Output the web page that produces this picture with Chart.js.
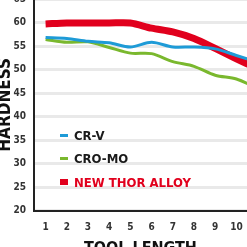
<!DOCTYPE html>
<html>
<head>
<meta charset="utf-8">
<script src="https://cdn.jsdelivr.net/npm/chart.js@4"></script>
<style>
  html, body { margin: 0; padding: 0; background: #fff; }
  #wrap { position: relative; width: 247px; height: 247px; overflow: hidden; }
  #inner { position: absolute; left: -5px; top: -15px; width: 252px; height: 273px; }
  #legend { position: absolute; left: 60px; top: 124px; font-family: 'Liberation Sans Narrow', 'DejaVu Sans Condensed', sans-serif; font-weight: bold; font-size: 13px; }
  .row { height: 23.3px; display: flex; align-items: center; }
  .mark { width: 8px; margin-right: 6px; }
</style>
</head>
<body>
<div id="wrap">
  <div id="inner"><canvas id="hardness"></canvas></div>
  <div id="legend"></div>
</div>
<script>
// values
const toolLength = [1, 2, 3, 4, 5, 6, 7, 8, 9, 10, 11];
const crV = [56.8, 56.6, 56.0, 55.7, 54.8, 55.8, 54.8, 54.8, 54.4, 53.0, 51.6];
const croMo = [56.4, 55.8, 55.9, 54.7, 53.5, 53.4, 51.7, 50.7, 48.8, 48.0, 46.0];
const thorAlloy = [59.7, 59.9, 59.9, 59.9, 59.9, 58.8, 58.0, 56.6, 54.5, 52.3, 50.2];
const xTicks = [1, 2, 3, 4, 5, 6, 7, 8, 9, 10];
const yTicks = [20, 25, 30, 35, 40, 45, 50, 55, 60, 65];
const seriesNames = ['CR-V', 'CRO-MO', 'NEW THOR ALLOY'];

const blue = '#1e9bd7', green = '#7ab82e', red = '#e1001d';
const fontFam = "'Liberation Sans Narrow', 'DejaVu Sans Condensed', sans-serif";

function points(vals) {
    return vals.map((v, i) => ({ x: toolLength[i], y: v }));
}

new Chart('hardness', {
    type: 'line',
    data: {
        datasets: [
            { label: seriesNames[0], data: points(crV), borderColor: blue, borderWidth: 3, tension: 0.3, pointRadius: 0 },
            { label: seriesNames[1], data: points(croMo), borderColor: green, borderWidth: 3, tension: 0.3, pointRadius: 0 },
            { label: seriesNames[2], data: points(thorAlloy), borderColor: red, borderWidth: 7, tension: 0.3, pointRadius: 0 }
        ]
    },
    options: {
        animation: false,
        responsive: true,
        maintainAspectRatio: false,
        layout: { padding: 0 },
        plugins: { legend: { display: false }, tooltip: { enabled: false } },
        scales: {
            x: {
                type: 'linear',
                min: 0.45,
                max: 10.5,
                afterBuildTicks: (s) => { s.ticks = xTicks.map(v => ({ value: v })); },
                grid: { display: false },
                border: { color: '#222', width: 2 },
                ticks: { color: '#333', padding: 3, font: { family: fontFam, weight: 'bold', size: 10 } },
                title: { display: true, text: 'TOOL LENGTH', color: '#111', padding: { top: 2, bottom: 0 }, font: { family: fontFam, weight: 'bold', size: 16 } }
            },
            y: {
                min: 20,
                max: 65,
                afterBuildTicks: (s) => { s.ticks = yTicks.map(v => ({ value: v })); },
                grid: { color: '#e9e9e9', lineWidth: 3, drawTicks: false },
                border: { color: '#222', width: 2 },
                ticks: { color: '#333', padding: 8, font: { family: fontFam, weight: 'bold', size: 10 } },
                title: { display: true, text: 'HARDNESS', color: '#111', padding: { top: 0, bottom: -10 }, font: { family: fontFam, weight: 'bold', size: 17 } }
            }
        }
    }
});

const colors = [blue, green, red];
const legend = document.getElementById('legend');
seriesNames.forEach((name, i) => {
    const row = document.createElement('div');
    row.className = 'row';
    const mark = document.createElement('span');
    mark.className = 'mark';
    mark.style.background = colors[i];
    mark.style.height = i === 2 ? '6px' : '3px';
    const label = document.createElement('span');
    label.textContent = name;
    label.style.color = i === 2 ? red : '#1a1a1a';
    row.appendChild(mark);
    row.appendChild(label);
    legend.appendChild(row);
});
</script>
</body>
</html>
